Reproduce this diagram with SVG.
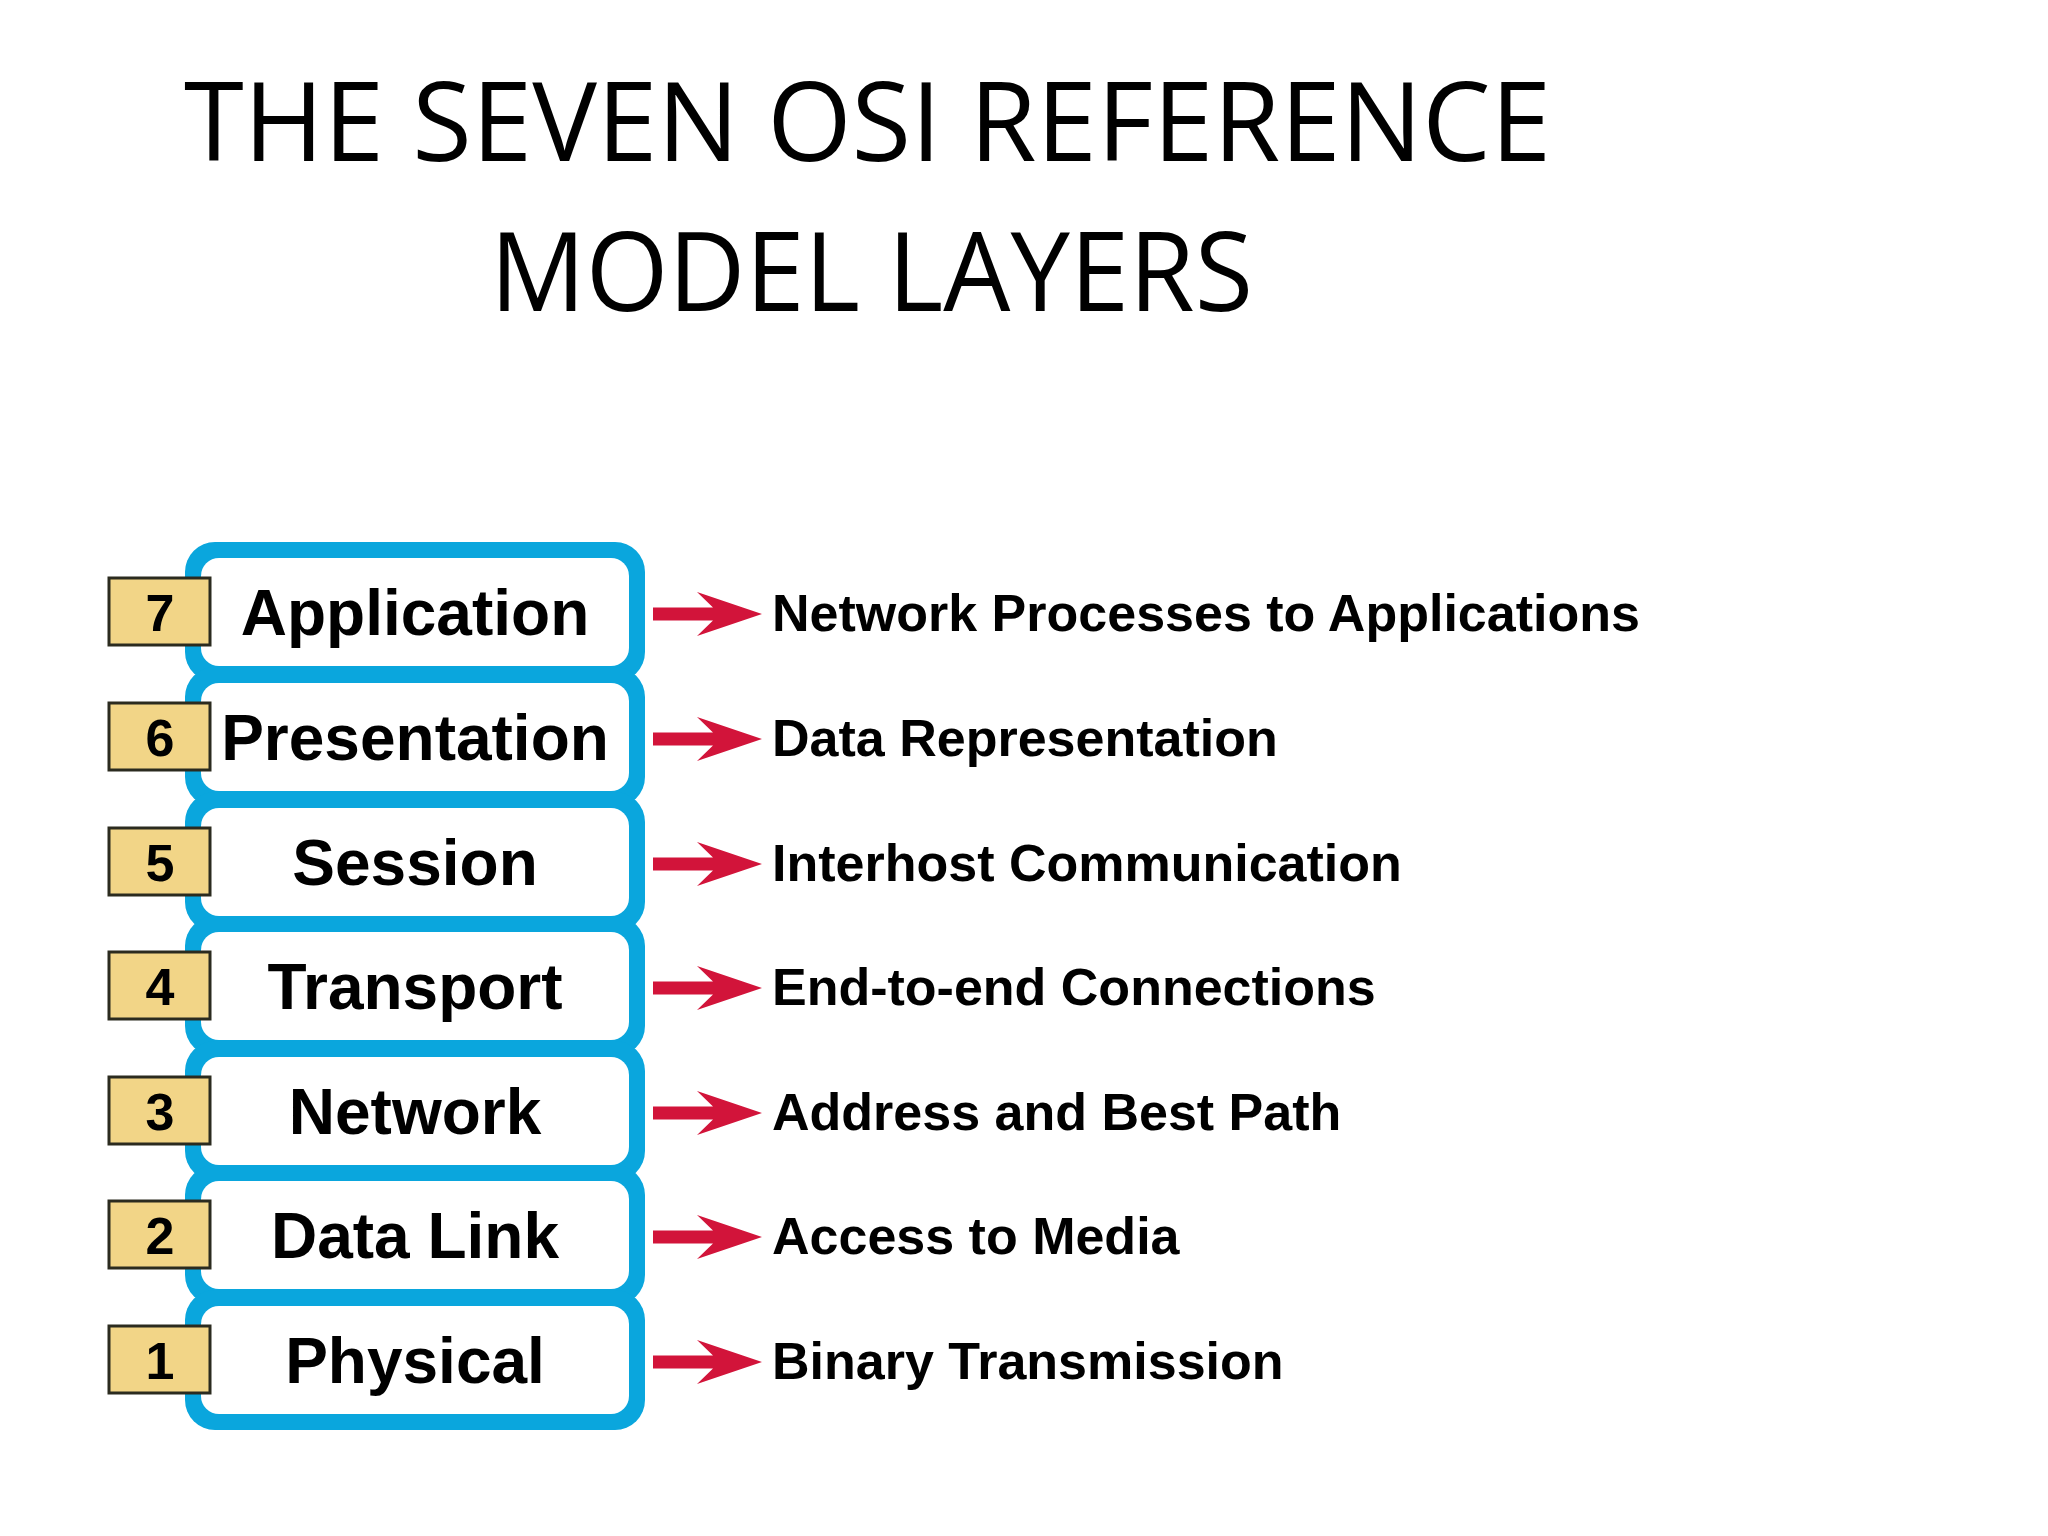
<svg xmlns="http://www.w3.org/2000/svg" xmlns:xlink="http://www.w3.org/1999/xlink" width="2048" height="1536" viewBox="0 0 2048 1536">
<style>
.title{font-family:"Open Sans","Liberation Sans",sans-serif;font-size:109px;fill:#000}
.outer{fill:#0AA6DD}
.inner{fill:#fff}
.numbox{fill:#F2D587;stroke:#2b2b1f;stroke-width:3}
.num{font-family:"Liberation Sans",Arial,sans-serif;font-weight:bold;font-size:52px;text-anchor:middle;fill:#000}
.name{font-family:"Liberation Sans",Arial,sans-serif;font-weight:bold;font-size:64px;text-anchor:middle;fill:#000}
.desc{font-family:"Liberation Sans",Arial,sans-serif;font-weight:bold;font-size:52px;fill:#000}
.arrow{fill:#D2143A}
</style>
<defs>
<path id="arr" d="M653,-4.5 L713,-4.5 L697,-20 L762,2 L697,24 L713,8.5 L653,8.5 Z"/>
</defs>
<rect width="2048" height="1536" fill="#fff"/>
<g id="title">
<text class="title" x="184" y="161" textLength="1367" lengthAdjust="spacingAndGlyphs">THE SEVEN OSI REFERENCE</text>
<text class="title" x="490" y="311" textLength="763" lengthAdjust="spacingAndGlyphs">MODEL LAYERS</text>
</g>
<g id="frames">
<rect class="outer" x="185" y="542" width="460" height="140" rx="30"/>
<rect class="outer" x="185" y="667" width="460" height="140" rx="30"/>
<rect class="outer" x="185" y="792" width="460" height="140" rx="30"/>
<rect class="outer" x="185" y="916" width="460" height="140" rx="30"/>
<rect class="outer" x="185" y="1041" width="460" height="140" rx="30"/>
<rect class="outer" x="185" y="1165" width="460" height="140" rx="30"/>
<rect class="outer" x="185" y="1290" width="460" height="140" rx="30"/>
</g>
<g id="layer7">
<rect class="inner" x="201" y="558" width="428" height="108" rx="18"/>
<rect class="numbox" x="109" y="578" width="101" height="67"/>
<text class="num" x="160" y="631">7</text>
<text class="name" x="415" y="635">Application</text>
<text class="desc" x="772" y="631">Network Processes to Applications</text>
</g>
<g id="layer6">
<rect class="inner" x="201" y="683" width="428" height="108" rx="18"/>
<rect class="numbox" x="109" y="703" width="101" height="67"/>
<text class="num" x="160" y="756">6</text>
<text class="name" x="415" y="760">Presentation</text>
<text class="desc" x="772" y="756">Data Representation</text>
</g>
<g id="layer5">
<rect class="inner" x="201" y="808" width="428" height="108" rx="18"/>
<rect class="numbox" x="109" y="828" width="101" height="67"/>
<text class="num" x="160" y="881">5</text>
<text class="name" x="415" y="885">Session</text>
<text class="desc" x="772" y="881">Interhost Communication</text>
</g>
<g id="layer4">
<rect class="inner" x="201" y="932" width="428" height="108" rx="18"/>
<rect class="numbox" x="109" y="952" width="101" height="67"/>
<text class="num" x="160" y="1005">4</text>
<text class="name" x="415" y="1009">Transport</text>
<text class="desc" x="772" y="1005">End-to-end Connections</text>
</g>
<g id="layer3">
<rect class="inner" x="201" y="1057" width="428" height="108" rx="18"/>
<rect class="numbox" x="109" y="1077" width="101" height="67"/>
<text class="num" x="160" y="1130">3</text>
<text class="name" x="415" y="1134">Network</text>
<text class="desc" x="772" y="1130">Address and Best Path</text>
</g>
<g id="layer2">
<rect class="inner" x="201" y="1181" width="428" height="108" rx="18"/>
<rect class="numbox" x="109" y="1201" width="101" height="67"/>
<text class="num" x="160" y="1254">2</text>
<text class="name" x="415" y="1258">Data Link</text>
<text class="desc" x="772" y="1254">Access to Media</text>
</g>
<g id="layer1">
<rect class="inner" x="201" y="1306" width="428" height="108" rx="18"/>
<rect class="numbox" x="109" y="1326" width="101" height="67"/>
<text class="num" x="160" y="1379">1</text>
<text class="name" x="415" y="1383">Physical</text>
<text class="desc" x="772" y="1379">Binary Transmission</text>
</g>
<g id="connectors" class="arrow">
<use xlink:href="#arr" transform="translate(0,612)"/>
<use xlink:href="#arr" transform="translate(0,737)"/>
<use xlink:href="#arr" transform="translate(0,862)"/>
<use xlink:href="#arr" transform="translate(0,986)"/>
<use xlink:href="#arr" transform="translate(0,1111)"/>
<use xlink:href="#arr" transform="translate(0,1235)"/>
<use xlink:href="#arr" transform="translate(0,1360)"/>
</g>
</svg>
